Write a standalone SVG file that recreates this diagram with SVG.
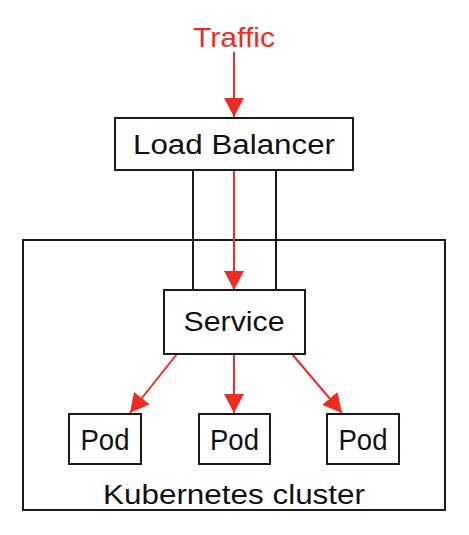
<svg xmlns="http://www.w3.org/2000/svg" width="469" height="535" viewBox="0 0 469 535">
<defs>
<style>
.box{fill:#fff;stroke:#1a1a1a;stroke-width:2}
.t{font-family:"Liberation Sans",Arial,sans-serif;fill:#111;text-anchor:middle}
.red{stroke:#ee2b24;stroke-width:2;fill:none}
.blk{stroke:#1a1a1a;stroke-width:2;fill:none}
</style>
<marker id="ah" markerUnits="userSpaceOnUse" markerWidth="20" markerHeight="20" refX="19" refY="10" orient="auto">
<path d="M0,0 L19,10 L0,20 Z" fill="#ee2b24"/>
</marker>
</defs>
<rect width="469" height="535" fill="#fff"/>
<g id="cluster">
<rect class="box" x="23" y="240" width="422" height="270"/>
<text class="t" x="234" y="504" font-size="27" textLength="262" lengthAdjust="spacingAndGlyphs">Kubernetes cluster</text>
</g>
<g id="connectors">
<line class="blk" x1="193" y1="170" x2="193" y2="290"/>
<line class="blk" x1="276" y1="170" x2="276" y2="290"/>
<line class="red" x1="234" y1="52" x2="234" y2="117" marker-end="url(#ah)"/>
<line class="red" x1="234" y1="170" x2="234" y2="290" marker-end="url(#ah)"/>
<line class="red" x1="177" y1="354" x2="130" y2="413" marker-end="url(#ah)"/>
<line class="red" x1="234" y1="354" x2="234" y2="413" marker-end="url(#ah)"/>
<line class="red" x1="292" y1="354" x2="342" y2="413" marker-end="url(#ah)"/>
</g>
<g id="traffic">
<text class="t" x="234" y="47" font-size="28" fill="#ee2b24" style="fill:#ee2b24" textLength="82" lengthAdjust="spacingAndGlyphs">Traffic</text>
</g>
<g id="load-balancer">
<rect class="box" x="115" y="118" width="238" height="52"/>
<text class="t" x="234" y="154" font-size="27" textLength="202" lengthAdjust="spacingAndGlyphs">Load Balancer</text>
</g>
<g id="service">
<rect class="box" x="164" y="290" width="141" height="64"/>
<text class="t" x="234" y="331" font-size="28" textLength="101" lengthAdjust="spacingAndGlyphs">Service</text>
</g>
<g id="pod1">
<rect class="box" x="69" y="414" width="72" height="50"/>
<text class="t" x="105" y="450" font-size="29" textLength="49" lengthAdjust="spacingAndGlyphs">Pod</text>
</g>
<g id="pod2">
<rect class="box" x="199" y="414" width="71" height="50"/>
<text class="t" x="234.5" y="450" font-size="29" textLength="49" lengthAdjust="spacingAndGlyphs">Pod</text>
</g>
<g id="pod3">
<rect class="box" x="327" y="414" width="72" height="50"/>
<text class="t" x="363" y="450" font-size="29" textLength="49" lengthAdjust="spacingAndGlyphs">Pod</text>
</g>
</svg>
